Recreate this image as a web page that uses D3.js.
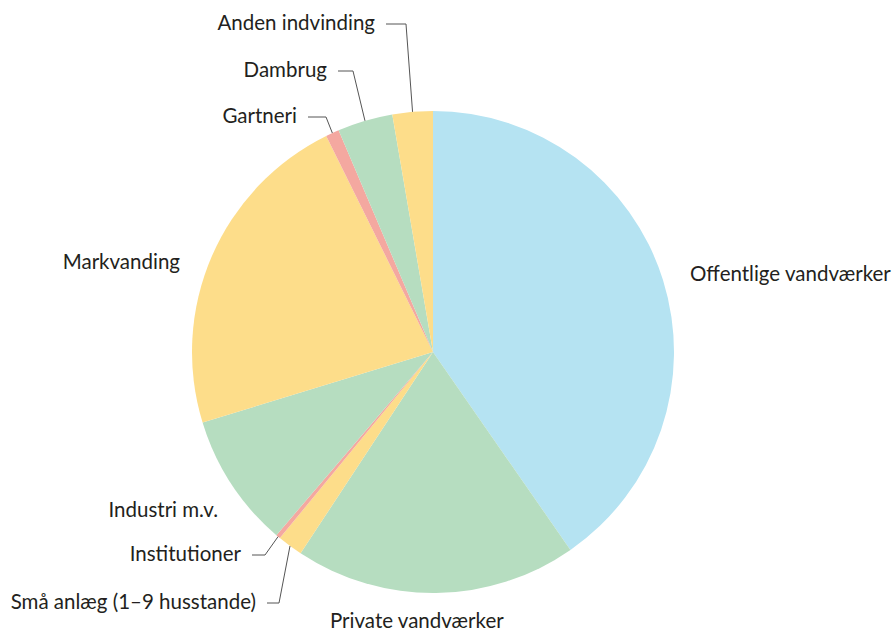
<!DOCTYPE html>
<html>
<head>
<meta charset="utf-8">
<script src="https://cdn.jsdelivr.net/npm/d3@7"></script>
<style>
  body { margin: 0; background: #fff; }
  text { font-family: Lato, "Open Sans", sans-serif; font-size: 20.5px; fill: #231f20; }
</style>
</head>
<body>
<svg id="chart" width="893" height="632"></svg>
<script>
// share of water abstraction (%), clockwise from 12 o'clock
var categories = ["Offentlige vandværker", "Private vandværker", "Små anlæg (1–9 husstande)",
    "Institutioner", "Industri m.v.", "Markvanding", "Gartneri", "Dambrug", "Anden indvinding"];
var values = [40.3, 18.9, 1.7, 0.3, 9.0, 22.4, 0.9, 3.7, 2.7];
var colors = ["#b5e3f2", "#b6ddc0", "#fddd8a", "#f4a8a0", "#b6ddc0", "#fddd8a", "#f4a8a0", "#b6ddc0", "#fddd8a"];

// label placement: x, y, anchor, and elbow x for leader lines (null = no line)
var labelPos = [
    [690, 274, "start", null],
    [330, 621, "start", null],
    [256, 602, "end", 279],
    [241, 554, "end", 265],
    [218, 510, "end", null],
    [180, 262, "end", null],
    [297, 116, "end", 326],
    [327, 70, "end", 353],
    [375, 23, "end", 406]
];

var cx = 433, cy = 352, radius = 241;

var svg = d3.select("#chart");
var g = svg.append("g").attr("transform", "translate(" + cx + "," + cy + ")");

var data = categories.map(function (c, i) { return { name: c, value: values[i], color: colors[i], pos: labelPos[i] }; });

var pie = d3.pie().sort(null).value(function (d) { return d.value; });
var arc = d3.arc().innerRadius(0).outerRadius(radius);
var arcs = pie(data);

g.selectAll("path.slice")
    .data(arcs)
    .enter().append("path")
    .attr("class", "slice")
    .attr("d", arc)
    .attr("fill", function (d) { return d.data.color; });

var labels = svg.selectAll("text.label")
    .data(arcs)
    .enter().append("text")
    .attr("class", "label")
    .attr("x", function (d) { return d.data.pos[0]; })
    .attr("y", function (d) { return d.data.pos[1]; })
    .attr("dy", "0.35em")
    .attr("text-anchor", function (d) { return d.data.pos[2]; })
    .text(function (d) { return d.data.name; });

svg.selectAll("path.leader")
    .data(arcs.filter(function (d) { return d.data.pos[3] !== null; }))
    .enter().append("path")
    .attr("class", "leader")
    .attr("fill", "none")
    .attr("stroke", "#555")
    .attr("stroke-width", 1)
    .attr("d", function (d) {
        var a = (d.startAngle + d.endAngle) / 2;
        var px = cx + Math.sin(a) * radius, py = cy - Math.cos(a) * radius;
        var x0 = d.data.pos[0] + 11, y0 = d.data.pos[1] + 1;
        return "M" + x0 + "," + y0 + "H" + d.data.pos[3] + "L" + px + "," + py;
    });
</script>
</body>
</html>
